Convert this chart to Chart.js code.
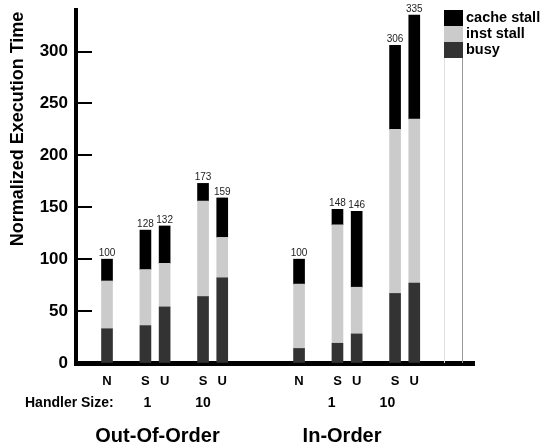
<!DOCTYPE html>
<html>
<head>
<meta charset="utf-8">
<script src="https://cdn.jsdelivr.net/npm/chart.js@4/dist/chart.umd.min.js"></script>
<style>
  body { margin: 0; background: #fff; }
  #wrap { width: 544px; height: 446px; position: relative; }
</style>
</head>
<body>
<div id="wrap"><canvas id="myChart"></canvas></div>
<script>
// bar labels, left to right
const categories = ['N', 'S', 'U', 'S', 'U', 'N', 'S', 'U', 'S', 'U'];
// slot of each bar on the x axis (empty slots are the gaps between groups)
const slots = [0, 2, 3, 5, 6, 10, 12, 13, 15, 16];
const legendSlot = 18;

const busy       = [33, 36, 54, 64, 82, 14, 19, 28, 67, 77];
const instStall  = [46, 54, 42, 92, 39, 62, 114, 45, 158, 158];
const cacheStall = [21, 38, 36, 17, 38, 24, 15, 73, 81, 100];

const yTicks = [0, 50, 100, 150, 200, 250, 300];
const handlerSizes = ['1', '10', '1', '10'];
const groups = ['Out-Of-Order', 'In-Order'];

const FONT = 'Liberation Sans, Arial, sans-serif';
const colors = { busy: '#333333', inst: '#cbcbcb', cache: '#000000' };

const toPoints = (arr) => arr.map((v, i) => ({ x: slots[i], y: v }));

const extras = {
  id: 'extras',
  afterDraw(chart) {
    const ctx = chart.ctx;
    const x = chart.scales.x;
    const y = chart.scales.y;
    const area = chart.chartArea;
    ctx.save();

    // inward tick marks on the y axis
    ctx.strokeStyle = '#000';
    ctx.lineWidth = 2;
    yTicks.forEach((t) => {
      if (t === 0) return;
      const py = Math.round(y.getPixelForValue(t));
      ctx.beginPath();
      ctx.moveTo(area.left, py);
      ctx.lineTo(area.left + 16, py);
      ctx.stroke();
    });

    // totals above the bars
    ctx.fillStyle = '#222';
    ctx.font = '10px ' + FONT;
    ctx.textAlign = 'center';
    ctx.textBaseline = 'alphabetic';
    categories.forEach((c, i) => {
      const total = busy[i] + instStall[i] + cacheStall[i];
      ctx.fillText(String(total), x.getPixelForValue(slots[i]), y.getPixelForValue(total) - 3);
    });

    // legend column
    const lx = Math.round(x.getPixelForValue(legendSlot) - 9);
    const lw = 18, sh = 16;
    ctx.strokeStyle = '#e0e0e0';
    ctx.lineWidth = 1;
    ctx.beginPath();
    ctx.moveTo(lx + 0.5, area.top); ctx.lineTo(lx + 0.5, area.bottom);
    ctx.stroke();
    ctx.strokeStyle = '#999';
    ctx.beginPath();
    ctx.moveTo(lx + lw + 0.5, area.top); ctx.lineTo(lx + lw + 0.5, area.bottom);
    ctx.stroke();
    const legendItems = [['cache stall', colors.cache], ['inst stall', colors.inst], ['busy', colors.busy]];
    ctx.font = 'bold 14.5px ' + FONT;
    ctx.textAlign = 'left';
    ctx.textBaseline = 'middle';
    legendItems.forEach(([label, col], k) => {
      const top = area.top + k * sh;
      ctx.fillStyle = col;
      ctx.fillRect(lx, top, lw + 1, sh);
      ctx.fillStyle = '#000';
      ctx.fillText(label, lx + lw + 4, top + sh / 2);
    });

    // handler size row
    ctx.font = 'bold 14px ' + FONT;
    ctx.textAlign = 'left';
    ctx.fillText('Handler Size:', 25, 403);
    ctx.textAlign = 'center';
    const sizeAt = [2.1, 5, 11.7, 14.6];
    handlerSizes.forEach((s, k) => ctx.fillText(s, x.getPixelForValue(sizeAt[k]), 403));

    // group titles
    ctx.font = 'bold 20px ' + FONT;
    const groupAt = [2.63, 12.24];
    groups.forEach((g, k) => ctx.fillText(g, x.getPixelForValue(groupAt[k]), 436));

    // y axis title
    ctx.translate(18.5, 129);
    ctx.rotate(-Math.PI / 2);
    ctx.font = 'bold 18px ' + FONT;
    ctx.fillText('Normalized Execution Time', 0, 0);
    ctx.restore();
  }
};

const data = {
  datasets: [
    { label: 'busy', data: toPoints(busy), backgroundColor: colors.busy },
    { label: 'inst stall', data: toPoints(instStall), backgroundColor: colors.inst },
    { label: 'cache stall', data: toPoints(cacheStall), backgroundColor: colors.cache }
  ]
};

const config = {
  type: 'bar',
  data: data,
  plugins: [extras],
  options: {
    responsive: true,
    maintainAspectRatio: false,
    animation: false,
    barThickness: 11,
    layout: { padding: { top: 10, right: 70, left: 0, bottom: 0 } },
    plugins: {
      legend: false,
      tooltip: { enabled: false }
    },
    scales: {
      x: {
        type: 'linear',
        stacked: true,
        offset: false,
        min: -1.615,
        max: 19.11,
        afterFit: (s) => { s.height = 83; s.paddingLeft = 0; s.paddingRight = 0; },
        afterBuildTicks: (s) => { s.ticks = slots.map((v) => ({ value: v })); },
        grid: { display: true, offset: false, drawOnChartArea: false, drawTicks: false },
        border: { display: true, color: '#000', width: 5 },
        ticks: {
          padding: 11,
          color: '#000',
          font: { family: FONT, size: 13, weight: 'bold' },
          maxRotation: 0,
          autoSkip: false,
          callback: (v) => categories[slots.indexOf(v)]
        }
      },
      y: {
        stacked: true,
        min: 0,
        max: 340,
        afterFit: (s) => { s.width = 76; s.paddingTop = 0; s.paddingBottom = 0; },
        afterBuildTicks: (s) => { s.ticks = yTicks.map((v) => ({ value: v })); },
        grid: { display: true, drawOnChartArea: false, drawTicks: false },
        border: { display: true, color: '#000', width: 4 },
        ticks: {
          padding: 8,
          color: '#000',
          font: { family: FONT, size: 17, weight: 'bold' }
        }
      }
    }
  }
};

const myChart = new Chart(document.getElementById('myChart'), config);
</script>
</body>
</html>
